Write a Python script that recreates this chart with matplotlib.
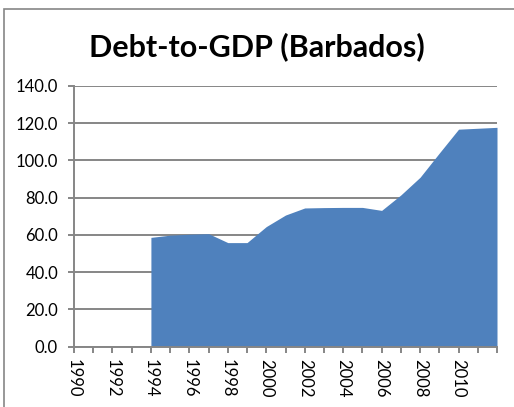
import matplotlib
matplotlib.use("Agg")
import matplotlib.pyplot as plt
from matplotlib.patches import Rectangle

# Data
years = list(range(1994, 2013))
debt_to_gdp = [58.7, 59.9, 60.4, 60.7, 55.9, 55.9, 64.5, 70.7, 74.5, 74.7,
               74.8, 74.8, 73.2, 81.5, 91.0, 104.0, 116.8, 117.3, 117.8]
tick_years = list(range(1990, 2013))
tick_labels = [str(y) if (y % 2 == 0 and y <= 2010) else '' for y in tick_years]
y_ticks = [0, 20, 40, 60, 80, 100, 120, 140]

plt.rcParams['font.family'] = ['Lato', 'DejaVu Sans']

grey = '#868686'
fig = plt.figure(figsize=(5.14, 4.07), dpi=100)
ax = fig.add_axes([74/514, 1 - 346.7/407, (497 - 74)/514, (346.7 - 86)/407])

ax.fill_between(years, debt_to_gdp, 0, color='#4F81BD', linewidth=0, zorder=3)

ax.set_xlim(1990, 2012)
ax.set_ylim(0, 140)
ax.set_yticks(y_ticks)
ax.set_yticklabels([f'{v:.1f}' for v in y_ticks])
ax.set_xticks(tick_years)
ax.set_xticklabels(tick_labels, rotation=-90)

ax.grid(axis='y', color=grey, linewidth=1.4, zorder=1)
ax.set_axisbelow(True)
for side in ['top', 'right']:
    ax.spines[side].set_visible(False)
for side in ['left', 'bottom']:
    ax.spines[side].set_color(grey)
    ax.spines[side].set_linewidth(1.4)
    ax.spines[side].set_zorder(4)
ax.tick_params(axis='both', colors=grey, width=1.4, length=4.5, labelsize=12,
               labelcolor='black')
ax.tick_params(axis='y', pad=7)
ax.tick_params(axis='x', pad=4)

fig.text(257/514, 1 - 47/407, 'Debt-to-GDP (Barbados)', ha='center', va='center',
         fontsize=22, fontweight='bold')

# chart border (cropped at right and bottom)
fig.patches.append(Rectangle((4/514, -0.1), 2, 1 - 9/407 + 0.1,
                             transform=fig.transFigure, fill=False,
                             edgecolor=grey, linewidth=1.2))

fig.savefig('out.png', dpi=100)
